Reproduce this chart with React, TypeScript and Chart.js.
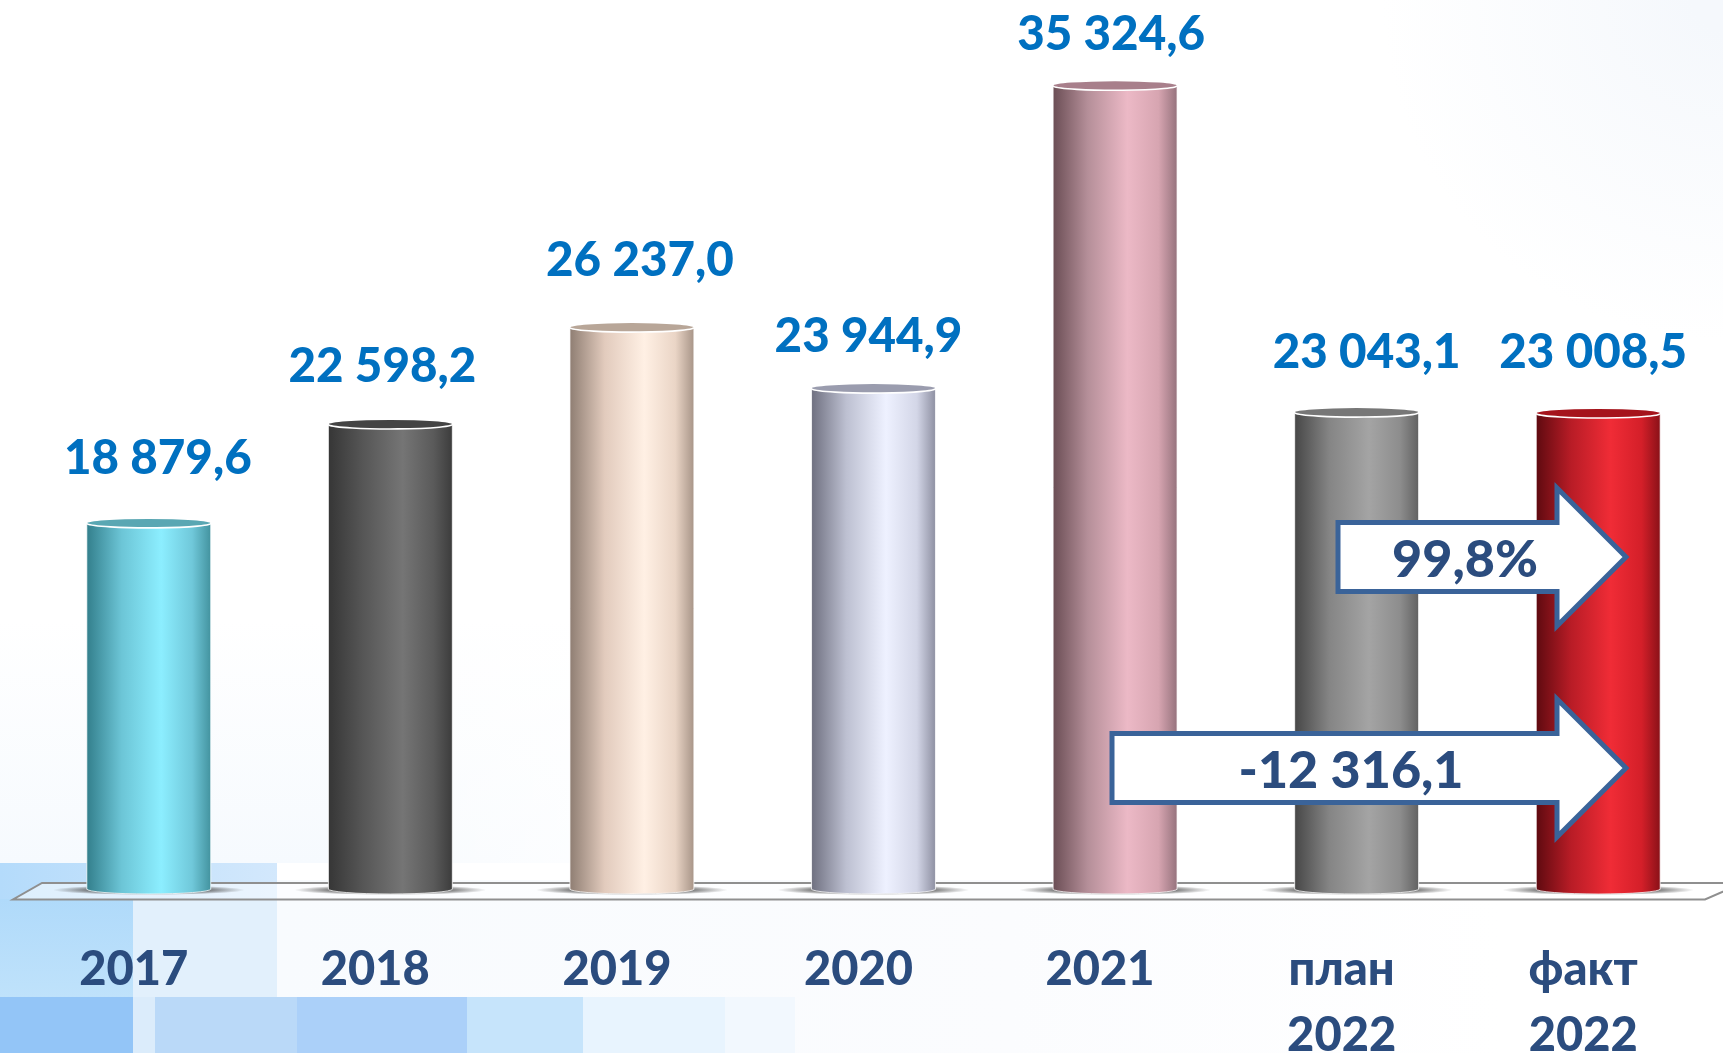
import React, { useEffect, useRef } from "react";
import { Chart, registerables } from "chart.js";

Chart.register(...registerables);

const categories: (string | string[])[] = ["2017", "2018", "2019", "2020", "2021", ["план", "2022"], ["факт", "2022"]];
const values = [18879.6, 22598.2, 26237.0, 23944.9, 35324.6, 23043.1, 23008.5];
const percentNote = "99,8%";
const deltaNote = "-12 316,1";

const FONT = "Lato, 'Noto Sans', sans-serif";
const W = 1723, H = 1053, BASE_Y = 889.5;
const NAVY = "#2b4c7e";

const gradients = [
  ["#337f8c", "#6cc5d6", "#8ceeff", "#70c8da", "#43939f"],
  ["#363636", "#565656", "#757575", "#5a5a5a", "#3c3c3c"],
  ["#8f7e73", "#e2cbbd", "#fff0e4", "#ead5c6", "#a89588"],
  ["#6f7080", "#bdc0d1", "#eef1ff", "#d3d6e7", "#8e90a2"],
  ["#6b4e55", "#b58f99", "#ecb9c6", "#d7a5b1", "#96737d"],
  ["#474747", "#858585", "#a4a4a4", "#8d8d8d", "#626262"],
  ["#5f0a10", "#b81c26", "#f02c36", "#d41f29", "#8a1118"],
];
const capColors = ["#5aa7b3", "#444444", "#b8a698", "#9a9cae", "#a87f8b", "#777777", "#a5141c"];
const labelNudgeX = [9, -8, 8, -5, -4, 10, -5];
const labelGapY = [65, 58, 67, 52, 51, 60, 61];

const fmt = (v: number) => {
  const [a, b] = v.toFixed(1).split(".");
  return a.replace(/\B(?=(\d{3})+$)/g, " ") + "," + b;
};

const backdrop = {
  id: "backdrop",
  beforeDraw(chart: any) {
    const c = chart.ctx as CanvasRenderingContext2D;
    c.save();
    c.fillStyle = "#ffffff";
    c.fillRect(0, 0, W, H);
    let g = c.createLinearGradient(0, 620, 0, 863);
    g.addColorStop(0, "rgba(246,250,254,0)");
    g.addColorStop(1, "rgba(246,250,254,1)");
    c.fillStyle = g;
    c.fillRect(0, 620, 700, 243);
    g = c.createLinearGradient(300, 0, 700, 0);
    g.addColorStop(0, "rgba(255,255,255,0)");
    g.addColorStop(1, "rgba(255,255,255,1)");
    c.fillStyle = g;
    c.fillRect(300, 620, 400, 243);
    g = c.createLinearGradient(277, 0, 1500, 0);
    g.addColorStop(0, "#f8fbfe");
    g.addColorStop(0.6, "#fbfcfe");
    g.addColorStop(1, "#ffffff");
    c.fillStyle = g;
    c.fillRect(277, 880, 1223, 173);
    g = c.createLinearGradient(0, 0, 277, 0);
    g.addColorStop(0, "#b4dbfb");
    g.addColorStop(1, "#d3e8fc");
    c.fillStyle = g;
    c.fillRect(0, 863, 277, 36);
    c.fillStyle = "#e2f0fc";
    c.fillRect(133, 899, 144, 98);
    g = c.createLinearGradient(0, 863, 0, 997);
    g.addColorStop(0, "#aad7fa");
    g.addColorStop(1, "#bfe2fb");
    c.fillStyle = g;
    c.fillRect(0, 899, 133, 98);
    const band: [number, number, string][] = [
      [0, 133, "#93c5f7"], [133, 155, "#dbecfb"], [155, 297, "#bad9f8"], [297, 467, "#abd0f9"],
      [467, 583, "#c6e4fb"], [583, 725, "#e8f4fe"], [725, 795, "#f2f8fe"],
    ];
    band.forEach(([a, b, col]) => {
      c.fillStyle = col;
      c.fillRect(a, 997, b - a, 56);
    });
    g = c.createRadialGradient(1723, 0, 30, 1723, 0, 340);
    g.addColorStop(0, "rgba(245,248,252,1)");
    g.addColorStop(1, "rgba(245,248,252,0)");
    c.fillStyle = g;
    c.fillRect(1380, 0, 343, 340);
    c.restore();
  },
};

const cylinders = {
  id: "cylinders",
  beforeDatasetsDraw(chart: any) {
    const c = chart.ctx as CanvasRenderingContext2D;
    c.save();
    c.beginPath();
    c.moveTo(42, 883);
    c.lineTo(W + 20, 883);
    c.lineTo(1705, 899.5);
    c.lineTo(13, 899.5);
    c.closePath();
    c.fillStyle = "rgba(255,255,255,0.55)";
    c.fill();
    c.strokeStyle = "#8f8f8f";
    c.lineWidth = 2;
    c.stroke();
    chart.getDatasetMeta(0).data.forEach((el: any) => {
      const half = el.width / 2 + 34;
      c.save();
      c.translate(el.x, 890);
      c.scale(1, 5 / half);
      const r = c.createRadialGradient(0, 0, el.width / 2 - 5, 0, 0, half);
      r.addColorStop(0, "rgba(70,70,70,0.75)");
      r.addColorStop(1, "rgba(70,70,70,0)");
      c.fillStyle = r;
      c.beginPath();
      c.arc(0, 0, half, 0, Math.PI * 2);
      c.fill();
      c.restore();
    });
    c.restore();
  },
  afterDatasetsDraw(chart: any) {
    const c = chart.ctx as CanvasRenderingContext2D;
    const base = chart.chartArea.bottom;
    chart.getDatasetMeta(0).data.forEach((el: any, i: number) => {
      const rx = el.width / 2;
      c.save();
      c.fillStyle = el.options.backgroundColor;
      c.beginPath();
      c.ellipse(el.x, base - 0.5, rx, 5, 0, 0, Math.PI);
      c.fill();
      c.strokeStyle = "rgba(255,255,255,0.75)";
      c.lineWidth = 1;
      c.beginPath();
      c.ellipse(el.x, base - 0.5, rx, 5, 0, 0, Math.PI);
      c.moveTo(el.x - rx, el.y);
      c.lineTo(el.x - rx, base);
      c.moveTo(el.x + rx, el.y);
      c.lineTo(el.x + rx, base);
      c.stroke();
      c.fillStyle = capColors[i];
      c.beginPath();
      c.ellipse(el.x, el.y, rx, 4.5, 0, 0, Math.PI * 2);
      c.fill();
      c.strokeStyle = "#ffffff";
      c.lineWidth = 1.6;
      c.beginPath();
      c.ellipse(el.x, el.y, rx, 4.5, 0, -0.12, Math.PI + 0.12);
      c.stroke();
      c.fillStyle = "#0070c0";
      c.font = `900 47.5px ${FONT}`;
      c.textAlign = "center";
      c.textBaseline = "middle";
      c.fillText(fmt(values[i]), el.x + labelNudgeX[i], el.y - labelGapY[i]);
      c.restore();
    });
  },
};

function arrow(c: CanvasRenderingContext2D, left: number, cy: number, text: string, textX: number) {
  const neck = 1557, tip = 1626;
  c.save();
  c.beginPath();
  c.moveTo(left, cy - 34.5);
  c.lineTo(neck, cy - 34.5);
  c.lineTo(neck, cy - 69);
  c.lineTo(tip, cy);
  c.lineTo(neck, cy + 69);
  c.lineTo(neck, cy + 34.5);
  c.lineTo(left, cy + 34.5);
  c.closePath();
  c.fillStyle = "#ffffff";
  c.fill();
  c.strokeStyle = "#3a6399";
  c.lineWidth = 5;
  c.lineJoin = "miter";
  c.stroke();
  c.fillStyle = NAVY;
  c.font = `900 52px ${FONT}`;
  c.textAlign = "center";
  c.textBaseline = "middle";
  c.fillText(text, textX, cy + 3);
  c.restore();
}

const callouts = {
  id: "callouts",
  afterDraw(chart: any) {
    const c = chart.ctx as CanvasRenderingContext2D;
    arrow(c, 1338, 557, percentNote, 1465);
    arrow(c, 1112, 768, deltaNote, 1351);
  },
};

export default function App() {
  const ref = useRef<HTMLCanvasElement>(null);
  useEffect(() => {
    const chart = new Chart(ref.current!, {
      type: "bar",
      data: {
        labels: categories as any,
        datasets: [
          {
            data: values,
            barPercentage: 0.513,
            categoryPercentage: 1,
            borderWidth: 0,
            backgroundColor: (ctx: any) => {
              const ch = ctx.chart;
              const sx = ch.scales.x;
              if (!ch.chartArea || !sx || ctx.dataIndex === undefined) return "#888888";
              const x = sx.getPixelForValue(ctx.dataIndex);
              const w = (sx.width / categories.length) * 0.513;
              const g = ch.ctx.createLinearGradient(x - w / 2, 0, x + w / 2, 0);
              const stops = [0, 0.28, 0.6, 0.85, 1];
              gradients[ctx.dataIndex].forEach((col, k) => g.addColorStop(stops[k], col));
              return g;
            },
          },
        ],
      },
      options: {
        responsive: false,
        animation: false,
        layout: { padding: { left: 28, right: 4, top: 0, bottom: 0 } },
        plugins: { legend: { display: false }, tooltip: { enabled: false } },
        scales: {
          y: { display: false, min: 5120, max: 38549 },
          x: {
            afterFit: (s: any) => {
              s.height = H - BASE_Y;
            },
            grid: { display: false, drawTicks: false },
            border: { display: false },
            ticks: {
              autoSkip: false,
              maxRotation: 0,
              minRotation: 0,
              labelOffset: -15,
              padding: 48,
              color: NAVY,
              font: { family: FONT, weight: "900", size: 47, lineHeight: 1.39 },
            },
          },
        },
      },
      plugins: [backdrop, cylinders, callouts],
    } as any);
    return () => chart.destroy();
  }, []);
  return (
    <div style={{ position: "fixed", left: 0, top: 0, width: W, height: H, overflow: "hidden" }}>
      <canvas ref={ref} width={W} height={H} style={{ display: "block" }} />
    </div>
  );
}
